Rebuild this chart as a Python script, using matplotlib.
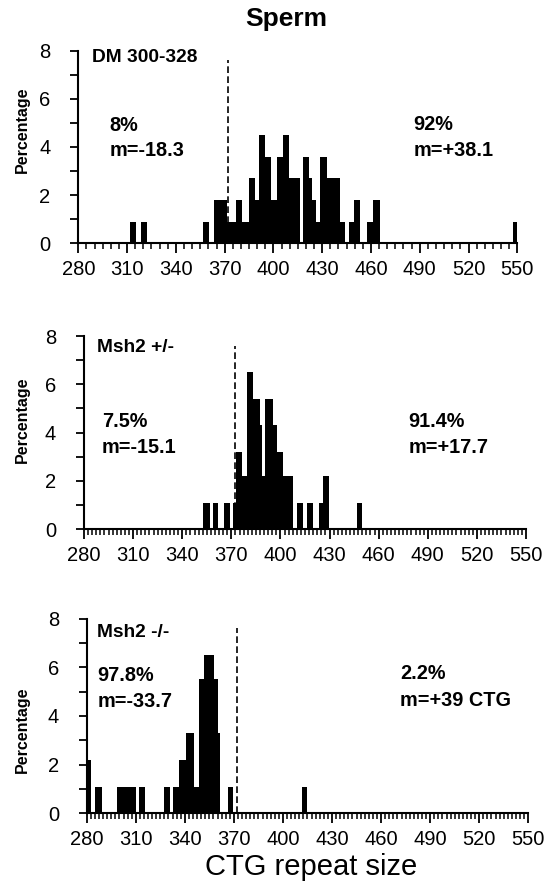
import numpy as np
import matplotlib.pyplot as plt
from matplotlib.ticker import MultipleLocator

plt.rcParams['font.family'] = ['Liberation Sans', 'DejaVu Sans']

# bin edges (CTG repeat size) and bar heights (%)
edges_dm = [311.8, 315.5, 318.8, 322.4, 356.9, 360.4, 363.5, 367.4, 371.5, 377.0,
            380.8, 385.2, 388.9, 391.0, 394.8, 398.5, 402.0, 405.7, 409.8, 416.6,
            418.4, 421.8, 423.6, 426.5, 428.6, 432.8, 441.0, 444.1, 446.7, 449.8,
            453.5, 457.7, 461.4, 465.5, 547.2, 550.6]
pct_dm = [0.9, 0, 0.9, 0, 0.9, 0, 1.8, 1.8, 0.9, 1.8,
          0.9, 2.7, 1.8, 4.5, 3.6, 1.8, 3.6, 4.5, 2.7, 0,
          3.6, 2.7, 1.8, 0.9, 3.6, 2.7, 0.9, 0, 0.9, 1.8,
          0, 0.9, 1.8, 0, 0.9]

edges_het = [352.9, 357.0, 358.6, 362.0, 365.5, 369.2, 370.8, 372.9, 376.7, 379.8,
             383.4, 387.5, 388.9, 390.6, 395.6, 397.7, 401.4, 404.2, 407.9, 409.9,
             413.6, 416.4, 420.1, 423.6, 426.2, 429.9, 446.6, 450.0]
pct_het = [1.1, 0, 1.1, 0, 1.1, 0, 1.1, 3.2, 2.2, 6.5,
           5.4, 4.3, 2.2, 5.4, 4.3, 3.2, 2.2, 2.2, 0, 1.1,
           0, 1.1, 0, 1.1, 2.2, 0, 1.1]

edges_ko = [278.5, 282.4, 284.9, 289.6, 298.7, 302.4, 306.2, 310.1, 312.0, 315.6,
            327.0, 330.7, 332.5, 336.2, 340.5, 345.4, 348.6, 351.7, 357.8, 360.3,
            361.7, 366.2, 369.6, 411.8, 414.9]
pct_ko = [2.2, 0, 1.1, 0, 1.1, 1.1, 1.1, 0, 1.1, 0,
          1.1, 0, 1.1, 2.2, 3.3, 1.1, 5.5, 6.5, 5.5, 3.3,
          0, 1.1, 0, 1.1]

panel_names = ['DM 300-328', 'Msh2 +/-', 'Msh2 -/-']
left_pct = ['8%', '7.5%', '97.8%']
left_m = ['m=-18.3', 'm=-15.1', 'm=-33.7']
right_pct = ['92%', '91.4%', '2.2%']
right_m = ['m=+38.1', 'm=+17.7', 'm=+39 CTG']
xticks = [280, 310, 340, 370, 400, 430, 460, 490, 520, 550]

W, H = 546, 888
fig = plt.figure(figsize=(W / 100, H / 100), dpi=100)

# axes boxes in pixels: left, right, top(y=8), bottom(y=0)
boxes = [(78.3, 517.3, 50.7, 243.3),
         (84.0, 526.0, 336.0, 529.3),
         (86.7, 528.3, 618.6, 813.3)]
data = [(edges_dm, pct_dm), (edges_het, pct_het), (edges_ko, pct_ko)]
minor_step = [5, 2.5, 2.5]
# text positions (data coords): name, left block, right block
txt_pos = [((288.2, 7.7), (299.1, 4.91, 3.87), (486.0, 4.93, 3.84)),
           ((287.8, 7.52), (290.8, 4.46, 3.38), (478.1, 4.48, 3.38)),
           ((286.3, 7.42), (286.5, 5.66, 4.61), (471.5, 5.76, 4.65))]
ylab_y = [130, 420, 730]

for i in range(3):
    x0, x1, yt, yb = boxes[i]
    ax = fig.add_axes([x0 / W, 1 - yb / H, (x1 - x0) / W, (yb - yt) / H])
    e, p = data[i]
    ax.stairs(p, e, fill=True, color='black', baseline=0)
    ax.plot([372, 372], [0, 7.6], ls=(0, (4, 2)), color='black', lw=1.2)
    ax.set_xlim(280, 550)
    ax.set_ylim(0, 8)
    for s in ['top', 'right']:
        ax.spines[s].set_visible(False)
    for s in ['left', 'bottom']:
        ax.spines[s].set_linewidth(1.5)
    ax.set_xticks(xticks)
    ax.xaxis.set_minor_locator(MultipleLocator(minor_step[i]))
    ax.set_yticks([0, 2, 4, 6, 8])
    ax.yaxis.set_minor_locator(MultipleLocator(1))
    ax.tick_params(axis='x', which='major', length=7, width=1.3, labelsize=14.5, pad=5)
    ax.tick_params(axis='x', which='minor', length=4, width=1.1)
    ax.tick_params(axis='y', which='both', length=6, width=1.3, labelsize=14.5, pad=14)

    (nx, ny), (lx, ly1, ly2), (rx, ry1, ry2) = txt_pos[i]
    ax.text(nx, ny, panel_names[i], fontsize=13.8, fontweight='bold', va='center', ha='left')
    ax.text(lx, ly1, left_pct[i], fontsize=14.3, fontweight='bold', va='center', ha='left')
    ax.text(lx, ly2, left_m[i], fontsize=14.3, fontweight='bold', va='center', ha='left')
    ax.text(rx, ry1, right_pct[i], fontsize=14.3, fontweight='bold', va='center', ha='left')
    ax.text(rx, ry2, right_m[i], fontsize=14.3, fontweight='bold', va='center', ha='left')

    fig.text(22 / W, 1 - ylab_y[i] / H, 'Percentage', rotation=90, fontsize=11.5,
             fontweight='bold', ha='center', va='center')

fig.text(286 / W, 1 - 19 / H, 'Sperm', fontsize=19, fontweight='bold', ha='center', va='center')
fig.text(311 / W, 1 - 867 / H, 'CTG repeat size', fontsize=21, ha='center', va='center')

fig.savefig('out.png', dpi=100)
